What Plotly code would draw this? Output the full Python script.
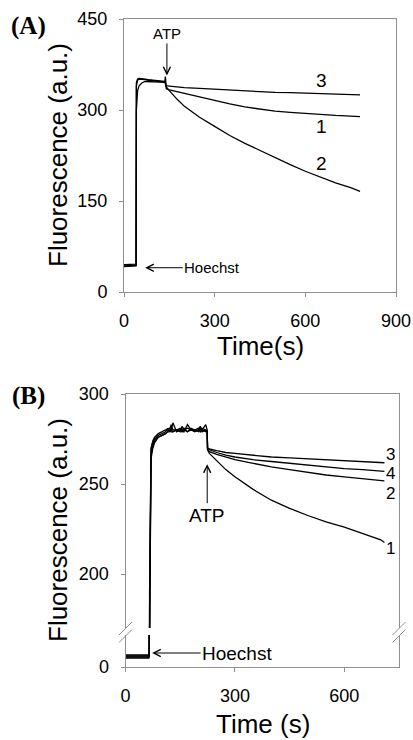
import plotly.graph_objects as go

# ---------------- data: panel (A) ----------------
t_a = [0, 20, 39, 40, 41, 43, 45, 50, 60, 70, 80, 100, 120, 135, 137, 138, 140, 150, 175, 200,
       250, 300, 350, 400, 450, 500, 550, 600, 650, 700, 750, 781]
a1 = [43, 43, 43, 44, 345, 349, 351, 352, 352, 351, 350, 349, 348, 347, 355, 336, 335, 333, 330, 327,
      321, 316, 310, 305, 301, 298, 296, 294, 292, 291, 290, 289]
a2 = [42, 42, 42, 43, 340, 346, 349, 351, 351, 350, 349, 348, 347, 346, 346, 340, 338, 332, 318, 306,
      288, 273, 258, 245, 233, 221, 210, 199, 189, 180, 172, 166]
a3 = [45, 45, 45, 46, 300, 322, 332, 340, 345, 347, 347, 347, 346, 345, 345, 341, 340, 339.5, 338, 337,
      335.5, 334, 332.5, 331, 330, 329, 328.5, 327.5, 326.5, 326, 325.5, 325]

# ---------------- data: panel (B) ----------------
t_b = [0, 30, 64, 65, 66, 68, 70, 75, 80, 90, 100, 110, 115, 120, 125, 130, 140, 150, 155, 160,
       170, 180, 190, 200, 205, 210, 220, 224, 225, 230, 250, 275, 300, 350, 400, 450, 500, 550, 600, 650,
       700, 710]
b1 = [5.5, 5.5, 5.5, 6, 180, 262, 269, 273, 275, 277, 278, 279, 281, 279, 283, 280, 280, 279, 282, 280,
      281, 280, 279, 280, 282, 280, 279, 280, 269, 267, 263, 258, 254, 247, 241, 236.5, 232.5, 229, 226, 222.5,
      219, 217.5]
b2 = [5, 5, 5, 5.5, 170, 258, 266, 271, 274, 276, 277, 278, 279, 280, 279, 279, 280, 280, 279, 281,
      279, 280, 280, 279, 280, 281, 280, 279, 269, 268, 266.5, 265, 263.5, 261.5, 259.5, 258, 256.5, 255, 254, 253,
      252, 251.7]
b3 = [6, 6, 6, 6.5, 190, 265, 270, 274, 276, 278, 279, 280, 280, 281, 280, 284, 279, 280, 280, 279,
      283, 280, 280, 281, 279, 280, 283, 280, 270, 269.5, 268.5, 267.5, 267, 266, 265, 264.5, 264, 263.3, 262.8, 262.3,
      262, 261.8]
b4 = [4.5, 4.5, 4.5, 5, 160, 255, 264, 270, 273, 276, 277, 278, 279, 279, 280, 279, 280, 281, 280, 280,
      279, 281, 280, 280, 281, 279, 280, 279, 270, 269, 267.5, 266, 265, 263.5, 262.5, 261.5, 260.5, 259.5, 258.5, 258,
      257.3, 257]

ticks_a_x = [0, 300, 600, 900]
ticks_a_y = [0, 150, 300, 450]
ticks_b_x = [0, 300, 600]
ticks_b_y_low = [0]
ticks_b_y_up = [200, 250, 300]

W, H = 413, 740
FONT = "Arial, 'Liberation Sans', sans-serif"
SERIF = "'Liberation Serif', 'Times New Roman', serif"
AX = "#8f8f8f"
LINE = dict(color="black", width=1.3)

def px(x):
    return x / W

def py(y):
    return 1 - y / H

fig = go.Figure()
for ys in (a1, a2, a3):
    fig.add_trace(go.Scatter(x=t_a, y=ys, mode="lines", line=LINE, xaxis="x", yaxis="y",
                             showlegend=False, hoverinfo="skip"))
for ys in (b1, b2, b3, b4):
    fig.add_trace(go.Scatter(x=t_b, y=ys, mode="lines", line=LINE, xaxis="x2", yaxis="y2",
                             showlegend=False, hoverinfo="skip"))
    fig.add_trace(go.Scatter(x=t_b, y=ys, mode="lines", line=LINE, xaxis="x3", yaxis="y3",
                             showlegend=False, hoverinfo="skip"))

common = dict(showline=True, linecolor=AX, linewidth=1, showgrid=False, zeroline=False,
              ticks="outside", ticklen=4, tickcolor=AX, tickwidth=1, automargin=False,
              tickfont=dict(family=FONT, size=18, color="black"))

fig.update_layout(
    width=W, height=H, margin=dict(l=0, r=0, t=0, b=0, pad=0), autosize=False,
    paper_bgcolor="white", plot_bgcolor="white", showlegend=False,
    font=dict(family=FONT, color="black"),
    xaxis=dict(domain=[px(124), px(396)], range=[0, 900], tickvals=ticks_a_x, anchor="y",
               mirror=True, ticklabelstandoff=8, **common),
    yaxis=dict(domain=[py(292), py(19)], range=[0, 450], tickvals=ticks_a_y, anchor="x",
               mirror=True, ticklabelstandoff=8, **common),
    xaxis2=dict(domain=[px(125.5), px(399)], range=[0, 750], tickvals=ticks_b_x, anchor="y2",
                ticklabelstandoff=8, **common),
    yaxis2=dict(domain=[py(667), py(635)], range=[0, 16], tickvals=ticks_b_y_low, anchor="x2",
                mirror=True, ticklabelstandoff=8, **common),
    xaxis3=dict(domain=[px(125.5), px(399)], range=[0, 750], anchor="y3", side="top",
                showline=True, linecolor=AX, linewidth=1, showgrid=False, zeroline=False,
                showticklabels=False, ticks=""),
    yaxis3=dict(domain=[py(628), py(394)], range=[170, 300], tickvals=ticks_b_y_up, anchor="x3",
                mirror=True, ticklabelstandoff=8, **common),
)

C = dict(xanchor="center", yanchor="middle", showarrow=False)
ann = []
# panel letters
for txt, y in [("<b>(A)</b>", 26), ("<b>(B)</b>", 396)]:
    ann.append(dict(text=txt, x=px(28), y=py(y), xref="paper", yref="paper",
                    font=dict(family=SERIF, size=25), **C))
# axis titles
for txt, x, y, ang in [("Fluorescence (a.u.)", 58, 155, -90), ("Time(s)", 260, 346, 0),
                       ("Fluorescence (a.u.)", 58, 530, -90), ("Time (s)", 263, 724, 0)]:
    ann.append(dict(text=txt, x=px(x), y=py(y), xref="paper", yref="paper",
                    textangle=ang, font=dict(family=FONT, size=26), borderpad=0, **C))
# curve labels A
for txt, x, y in [("3", 652, 348), ("1", 652, 273.6), ("2", 652, 212.6)]:
    ann.append(dict(text=txt, x=x, y=y, xref="x", yref="y", font=dict(family=FONT, size=19), **C))
# curve labels B
for txt, x, y in [("3", 726, 266.5), ("4", 726, 255.6), ("2", 726, 244.7), ("1", 726, 214.4)]:
    ann.append(dict(text=txt, x=x, y=y, xref="x3", yref="y3", font=dict(family=FONT, size=17),
                    borderpad=0, **C))
# arrows
arrow = dict(showarrow=True, arrowhead=5, arrowsize=1.4, arrowwidth=1, arrowcolor="black")
ann.append(dict(text="ATP", x=142, y=357, xref="x", yref="y", ax=0, ay=-42,
                font=dict(family=FONT, size=15), **arrow))
ann.append(dict(text="Hoechst", x=70, y=40, xref="x", yref="y", ax=67, ay=0,
                font=dict(family=FONT, size=15), **arrow))
ann.append(dict(text="ATP", x=224, y=261, xref="x3", yref="y3", ax=0, ay=51,
                font=dict(family=FONT, size=19), **arrow))
ann.append(dict(text="Hoechst", x=73, y=7, xref="x2", yref="y2", ax=85, ay=0,
                font=dict(family=FONT, size=19), **arrow))
fig.update_layout(annotations=ann)

# axis-break marks
shapes = []
for cx in (125.5, 399):
    for dy in (0, 7.5):
        shapes.append(dict(type="line", xref="paper", yref="paper",
                           x0=px(cx - 6.5), y0=py(635 + dy), x1=px(cx + 6.5), y1=py(622 + dy),
                           line=dict(color=AX, width=1)))
fig.update_layout(shapes=shapes)

fig.write_html("out.html", config={"displayModeBar": False},
               post_script="document.body.style.margin='0';")
